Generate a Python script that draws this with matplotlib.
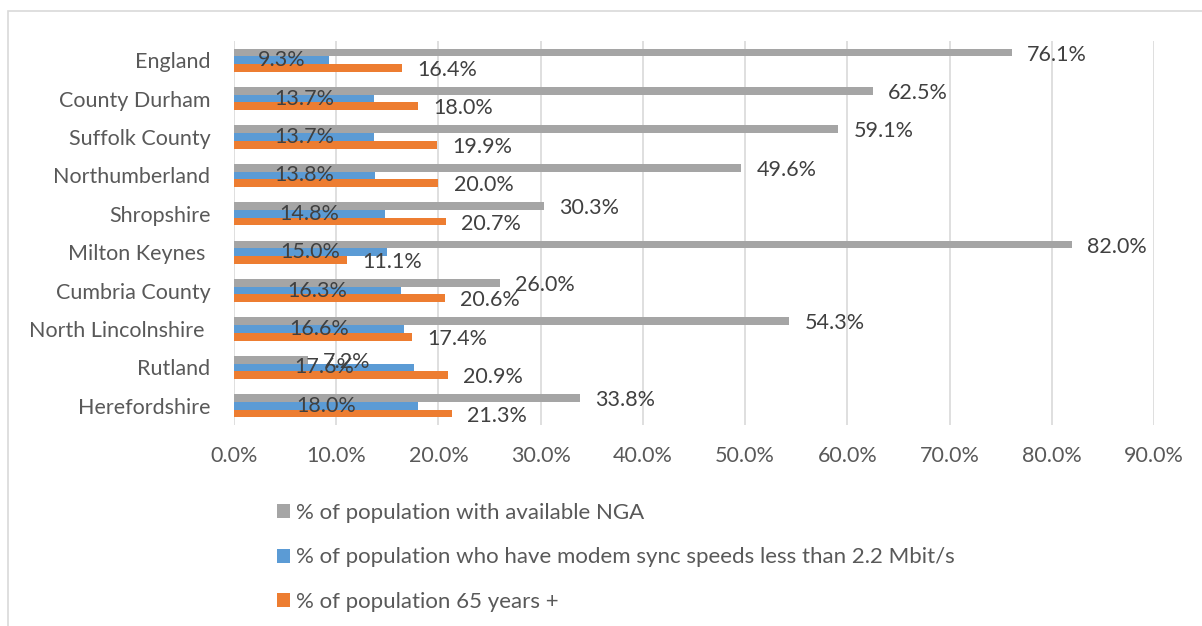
import matplotlib.pyplot as plt
import numpy as np
from matplotlib.patches import Rectangle

areas = ['England', 'County Durham', 'Suffolk County', 'Northumberland', 'Shropshire',
         'Milton Keynes ', 'Cumbria County', 'North Lincolnshire ', 'Rutland', 'Herefordshire']
nga = [76.1, 62.5, 59.1, 49.6, 30.3, 82.0, 26.0, 54.3, 7.2, 33.8]
slow_sync = [9.3, 13.7, 13.7, 13.8, 14.8, 15.0, 16.3, 16.6, 17.6, 18.0]
over_65 = [16.4, 18.0, 19.9, 20.0, 20.7, 11.1, 20.6, 17.4, 20.9, 21.3]
xticks = [0, 10, 20, 30, 40, 50, 60, 70, 80, 90]

series_labels = ['% of population with available NGA',
                 '% of population who have modem sync speeds less than 2.2 Mbit/s',
                 '% of population 65 years +']
colors = ['#A5A5A5', '#5B9BD5', '#ED7D31']

plt.rcParams['font.family'] = ['Lato', 'DejaVu Sans']
txt = '#595959'
lbl = '#404040'
fs = 15.5

fig = plt.figure(figsize=(12.02, 6.26), dpi=100)
ax = fig.add_axes([234/1202, 1 - 425/626, 920/1202, 384/626])

# outer chart frame (only left/top edges fall inside the image)
fig.patches.append(Rectangle((8/1202, -0.1), 1.2, (1 - 11/626) + 0.1, transform=fig.transFigure,
                             fill=False, edgecolor='#D9D9D9', linewidth=1.2))

y = np.arange(len(areas))
h = 0.2
b_nga = ax.barh(y - h, nga, height=h, color=colors[0], label=series_labels[0])
b_slow = ax.barh(y, slow_sync, height=h, color=colors[1], label=series_labels[1])
b_old = ax.barh(y + h, over_65, height=h, color=colors[2], label=series_labels[2])

for vals, off in ((nga, -h), (over_65, h)):
    for i, v in enumerate(vals):
        ax.annotate(f'{v:.1f}%', xy=(v, i + off), xytext=(11, -1.5), textcoords='offset points',
                    ha='left', va='center', fontsize=fs, color=lbl)
for i, v in enumerate(slow_sync):
    ax.annotate(f'{v:.1f}%', xy=(v / 2, i), xytext=(0, 0), textcoords='offset points',
                ha='center', va='center', fontsize=fs, color=lbl)

ax.set_xlim(0, 90)
ax.set_ylim(len(areas) - 0.5, -0.5)
ax.set_xticks(xticks)
ax.set_xticklabels([f'{t:.1f}%' for t in xticks])
ax.set_yticks(y)
ax.set_yticklabels(areas)
ax.tick_params(axis='x', length=0, pad=15, labelsize=fs, labelcolor=txt)
ax.tick_params(axis='y', length=0, pad=17, labelsize=fs, labelcolor=txt)
ax.grid(axis='x', color='#D9D9D9', linewidth=1.2)
ax.set_axisbelow(True)
for s in ax.spines.values():
    s.set_visible(False)

fig.legend(handles=[b_nga, b_slow, b_old], loc='upper left', bbox_to_anchor=(257/1202, 1 - 483/626),
           frameon=False, fontsize=16, labelcolor=txt, handlelength=0.6, handleheight=0.6,
           handletextpad=0.25, labelspacing=1.1)

fig.savefig('out.png', dpi=100)
